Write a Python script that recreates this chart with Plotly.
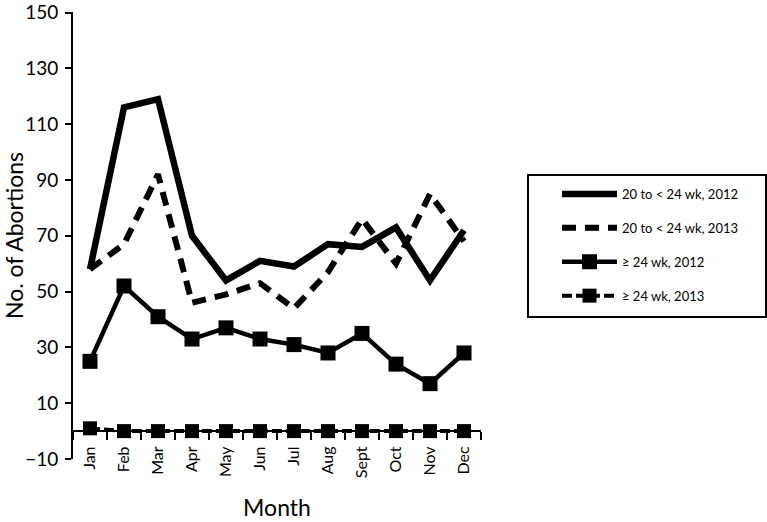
import plotly.graph_objects as go

months = ["Jan", "Feb", "Mar", "Apr", "May", "Jun", "Jul", "Aug", "Sept", "Oct", "Nov", "Dec"]

early_2012 = [58, 116, 119, 70, 54, 61, 59, 67, 66, 73, 54, 72]
early_2013 = [58, 67, 92, 46, 49, 53, 44, 57, 76, 60, 85, 68]
late_2012 = [25, 52, 41, 33, 37, 33, 31, 28, 35, 24, 17, 28]
late_2013 = [1, 0, 0, 0, 0, 0, 0, 0, 0, 0, 0, 0]

y_ticks = [-10, 10, 30, 50, 70, 90, 110, 130, 150]

FONT = "Lato, 'Open Sans', sans-serif"

FIG_W, FIG_H = 767, 522

# plot area in px
L, R, T, B = 73, 481, 12, 459

fig = go.Figure()

# 20 to < 24 wk
fig.add_trace(go.Scatter(
    x=months, y=early_2012, mode="lines", name="20 to < 24 wk, 2012",
    legendgroup="a", line=dict(color="black", width=6.5)
))
fig.add_trace(go.Scatter(
    x=months, y=early_2013, mode="lines", name="20 to < 24 wk, 2013",
    legendgroup="b", line=dict(color="black", width=6, dash="14px,9px")
))

# >= 24 wk
fig.add_trace(go.Scatter(
    x=months, y=late_2012, mode="lines+markers", name="≥ 24 wk, 2012",
    legendgroup="c", line=dict(color="black", width=4.5),
    marker=dict(symbol="square", size=15, color="black")
))
fig.add_trace(go.Scatter(
    x=months, y=late_2013, mode="lines+markers", name="≥ 24 wk, 2013",
    legendgroup="d", line=dict(color="black", width=4, dash="10px,4px"),
    marker=dict(symbol="square", size=14, color="black")
))

W = R - L
H = B - T

def px_x(v):
    return (v - L) / W

def px_y(v):
    return (B - v) / H

# legend frame
fig.add_shape(
    type="rect", xref="paper", yref="paper",
    x0=px_x(528), x1=px_x(766), y0=px_y(317), y1=px_y(175),
    line=dict(color="black", width=2), fillcolor="rgba(0,0,0,0)",
)

fig.update_layout(
    width=FIG_W,
    height=FIG_H,
    paper_bgcolor="white",
    plot_bgcolor="white",
    font=dict(family=FONT, size=18, color="black"),
    margin=dict(l=L, r=FIG_W - R, t=T, b=FIG_H - B),

    xaxis=dict(
        type="category",
        range=[-0.5, 11.5],
        anchor="free",
        position=10 / 160,
        automargin=False,
        showline=True,
        linecolor="black",
        linewidth=2,
        ticks="outside",
        tickson="boundaries",
        ticklen=8,
        tickwidth=2,
        tickcolor="black",
        tickangle=-90,
        tickfont=dict(size=16),
        ticklabelstandoff=8,
        showgrid=False,
        zeroline=False,
        title=dict(text="Month", font=dict(size=23), standoff=22),
    ),
    yaxis=dict(
        range=[-10, 150.2],
        tickvals=y_ticks,
        automargin=False,
        ticklabeloverflow="allow",
        showline=True,
        linecolor="black",
        linewidth=2,
        ticks="outside",
        ticklen=6,
        tickwidth=2,
        tickcolor="black",
        tickfont=dict(size=19),
        ticklabelstandoff=3,
        showgrid=False,
        zeroline=False,
        title=dict(text="No. of Abortions", font=dict(size=23), standoff=2),
    ),

    legend=dict(
        x=px_x(557),
        xanchor="left",
        y=px_y(179),
        yanchor="top",
        borderwidth=0,
        bgcolor="rgba(0,0,0,0)",
        font=dict(size=13),
        tracegroupgap=14,
        itemwidth=55,
    ),
    showlegend=True,
)

# drop the browser's default 8px body margin so the figure sits at the page corner
fig.write_html(
    "out.html",
    config={"displayModeBar": False},
    post_script="document.body.style.margin = '0';",
)
